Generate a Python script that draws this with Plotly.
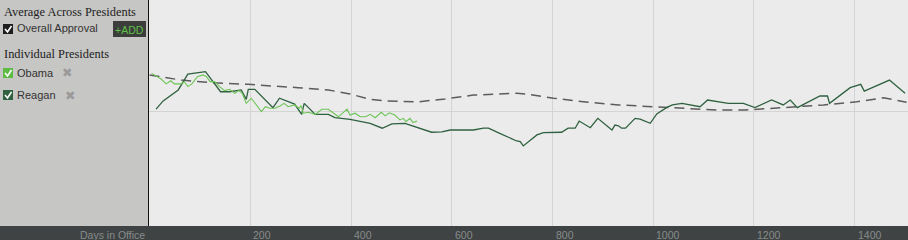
import plotly.graph_objects as go

# ---- data (days in office, approval %) ----
reagan_days = [13, 27, 57, 66, 76, 111, 126, 141, 159, 182, 192, 196, 209, 245, 258, 288, 302, 307,
               329, 355, 368, 398, 438, 462, 481, 507, 560, 580, 597, 643, 663, 673, 692, 729, 736,
               742, 769, 782, 818, 831, 845, 853, 875, 890, 918, 924, 931, 937, 945, 964, 974, 994,
               1007, 1027, 1038, 1057, 1093, 1108, 1149, 1179, 1202, 1235, 1258, 1272, 1286, 1331,
               1346, 1350, 1391, 1412, 1419, 1457, 1469, 1500]
reagan_vals = [51.2, 54.9, 59.8, 63.0, 66.9, 68.0, 63.5, 59.0, 59.0, 59.8, 55.6, 60.1, 60.1, 51.9,
               56.1, 53.5, 48.9, 53.8, 48.9, 48.9, 47.4, 46.7, 44.9, 42.7, 44.6, 44.9, 40.9, 41.1,
               41.9, 41.9, 42.7, 42.7, 40.7, 37.0, 36.7, 34.8, 39.7, 40.7, 40.9, 42.7, 42.7, 45.9,
               42.9, 47.1, 41.9, 44.1, 43.8, 42.7, 42.7, 47.1, 46.8, 44.9, 49.1, 52.0, 53.1, 53.8,
               52.3, 55.3, 53.8, 53.8, 51.9, 55.3, 53.1, 55.3, 51.9, 57.1, 57.1, 53.8, 60.8, 62.3,
               59.3, 62.8, 64.2, 58.3]

obama_days = [4, 23, 33, 42, 49, 63, 69, 76, 84, 95, 106, 113, 120, 129, 139, 149, 159, 169, 177,
              184, 192, 202, 222, 230, 239, 249, 259, 267, 275, 288, 297, 301, 305, 315, 329, 342,
              355, 375, 392, 398, 408, 418, 429, 438, 448, 460, 468, 476, 487, 497, 504, 509, 517,
              523, 531]
obama_vals = [67.2, 64.7, 62.5, 63.9, 62.5, 62.5, 63.5, 61.3, 62.5, 65.7, 66.5, 65.7, 63.5, 63.5,
              61.3, 59.5, 60.1, 58.3, 59.5, 58.3, 53.8, 56.1, 50.1, 52.3, 51.6, 51.6, 52.6, 53.8,
              52.3, 53.1, 51.6, 52.8, 49.4, 49.8, 48.9, 51.2, 51.2, 47.8, 51.2, 48.6, 49.4, 47.8,
              47.8, 48.9, 47.4, 49.8, 48.2, 49.6, 48.6, 46.4, 47.1, 45.6, 47.1, 45.2, 45.9]

avg_days = [0, 63, 129, 196, 295, 355, 398, 438, 468, 534, 587, 643, 729, 749, 802, 871, 931, 997,
            1030, 1063, 1129, 1182, 1212, 1272, 1338, 1404, 1457, 1503]
avg_vals = [66.5, 64.2, 63.0, 62.3, 60.8, 59.8, 58.0, 55.6, 54.9, 54.5, 55.8, 57.5, 58.3, 57.9,
            56.1, 54.3, 53.1, 52.3, 52.0, 51.3, 50.8, 50.8, 51.2, 51.9, 53.1, 54.5, 56.3, 54.3]

tick_vals = [200, 400, 600, 800, 1000, 1200, 1400]
tick_text = ["200", "400", "600", "800", "1000", "1200", "1400"]

# ---- layout geometry ----
W, H = 908, 240
ML, MB = 149, 14
PW, PH = W - ML, H - MB


def px(x):
    return (x - ML) / PW


def py(y):
    return (PH - y) / PH


fig = go.Figure()
fig.add_trace(go.Scatter(x=avg_days, y=avg_vals, mode="lines", hoverinfo="skip",
                         line=dict(color="#5c5c5c", width=1.5, dash="10px,6px")))
fig.add_trace(go.Scatter(x=reagan_days, y=reagan_vals, mode="lines", hoverinfo="skip",
                         line=dict(color="#2f6140", width=1.3)))
fig.add_trace(go.Scatter(x=obama_days, y=obama_vals, mode="lines", hoverinfo="skip",
                         line=dict(color="#6cc455", width=1.1)))

shapes = []
# bottom dark bar
shapes.append(dict(type="rect", xref="paper", yref="paper", x0=px(0), x1=1, y0=py(H), y1=0,
                   fillcolor="#3f4343", line=dict(width=0), layer="above"))
# +ADD button
shapes.append(dict(type="rect", xref="paper", yref="paper", x0=px(113), x1=px(146), y0=py(37), y1=py(21),
                   fillcolor="#3b3e3b", line=dict(width=0)))


def checkbox(y0, color):
    shapes.append(dict(type="rect", xref="paper", yref="paper", x0=px(3), x1=px(13), y0=py(y0 + 10), y1=py(y0),
                       fillcolor=color, line=dict(width=0)))
    path = "M {} {} L {} {} L {} {}".format(px(5), py(y0 + 5), px(7.5), py(y0 + 8), px(11.5), py(y0 + 2))
    shapes.append(dict(type="path", xref="paper", yref="paper", path=path,
                       line=dict(color="white", width=1.6)))


checkbox(24, "#1e1e1e")
checkbox(68, "#5dbb46")
checkbox(90, "#2f6140")

annotations = []


def txt(x, y, s, size, color, family, anchor="left"):
    annotations.append(dict(x=px(x), y=py(y), xref="paper", yref="paper", text=s, showarrow=False,
                            xanchor=anchor, yanchor="middle",
                            font=dict(size=size, color=color, family=family)))


serif = "Liberation Serif, Georgia, serif"
sans = "Liberation Sans, Arial, sans-serif"
txt(2, 12, "Average Across Presidents", 12.4, "#222222", serif)
txt(15, 28, "Overall Approval", 11, "#333333", sans)
txt(129.5, 30, "+ADD", 10.5, "#5fc04a", sans, anchor="center")
txt(2, 54, "Individual Presidents", 12.4, "#222222", serif)
txt(15, 73, "Obama", 11, "#333333", sans)
txt(67, 73, "✖", 12.5, "#9a9a9a", "DejaVu Sans", anchor="center")
txt(15, 95, "Reagan", 11, "#333333", sans)
txt(70, 95, "✖", 12.5, "#9a9a9a", "DejaVu Sans", anchor="center")
txt(112, 234.5, "Days in Office", 10.5, "#878c8c", sans, anchor="center")

for v, t in zip(tick_vals, tick_text):
    annotations.append(dict(x=v, y=py(234.5), xref="x", yref="paper", text=t, showarrow=False,
                            xanchor="left", yanchor="middle", xshift=1,
                            font=dict(size=10.5, color="#878c8c", family=sans)))

fig.update_layout(
    width=W, height=H,
    margin=dict(l=ML, r=0, t=0, b=MB, pad=0),
    paper_bgcolor="#c6c6c4",
    plot_bgcolor="#ebebeb",
    showlegend=False,
    shapes=shapes,
    annotations=annotations,
    xaxis=dict(range=[-1.1, 1505.8], tickvals=tick_vals, showticklabels=False, ticks="",
               showgrid=True, gridcolor="#d4d4d4", gridwidth=1, zeroline=False, showline=False,
               fixedrange=True),
    yaxis=dict(range=[-1, 100], tickvals=[50], showticklabels=False, ticks="",
               showgrid=True, gridcolor="#d4d4d4", gridwidth=1, zeroline=False,
               showline=True, linecolor="#111111", linewidth=1, fixedrange=True),
)

fig.write_html("out.html", config={"displayModeBar": False})
